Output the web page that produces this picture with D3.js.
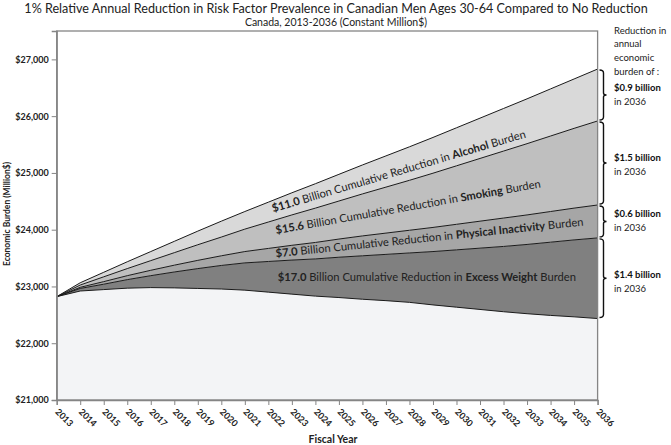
<!DOCTYPE html>
<html><head><meta charset="utf-8">
<script src="https://cdn.jsdelivr.net/npm/d3@7"></script>
<style>
body{margin:0;background:#fff}
svg{display:block;font-family:Lato,"Open Sans",sans-serif}
</style>
</head><body>
<svg id="chart" width="671" height="445"></svg>
<script>
// ---------------- data (Million $) ----------------
const years = [2013,2014,2015,2016,2017,2018,2019,2020,2021,2022,2023,2024,2025,2026,2027,2028,2029,2030,2031,2032,2033,2034,2035,2036];
const noReduction = [22820,23065,23250,23435,23615,23795,23975,24150,24320,24485,24650,24810,24975,25140,25300,25460,25625,25795,25965,26135,26305,26480,26655,26830];
const alcohol      = [0,40,80,120,160,200,240,280,310,350,390,430,470,510,550,590,630,670,710,750,790,830,870,915];
const smoking      = [0,40,85,125,170,220,275,330,395,465,535,605,670,740,810,880,955,1030,1105,1180,1255,1330,1405,1480];
const inactivity   = [0,20,45,70,95,120,145,170,200,230,260,290,320,350,375,400,425,450,475,500,520,540,560,580];
const excessWeight = [0,45,95,150,210,280,350,415,480,540,600,655,710,765,815,870,940,1010,1080,1150,1220,1290,1355,1420];

const yTicks = [21000,22000,23000,24000,25000,26000,27000];
const factorNames = ["Alcohol","Smoking","Physical Inactivity","Excess Weight"];
const cumulativeLabels = ["$11.0","$15.6","$7.0","$17.0"];
const annualLabels = ["$0.9 billion","$1.5 billion","$0.6 billion","$1.4 billion"];
const colors = {base:"#f3f4f6", excessWeight:"#808080", inactivity:"#a6a6a6", smoking:"#bfbfbf", alcohol:"#d9d9d9"};

// ---------------- layout ----------------
const svg = d3.select("#chart");
const L = 56.7, R = 597.6, T = 31, B = 400;

const rows = years.map((yr,i)=>({
  year: yr,
  base: noReduction[i]-alcohol[i]-smoking[i]-inactivity[i]-excessWeight[i],
  excessWeight: excessWeight[i], inactivity: inactivity[i], smoking: smoking[i], alcohol: alcohol[i]
}));
const keys = ["base","excessWeight","inactivity","smoking","alcohol"];
const series = d3.stack().keys(keys)(rows);

const x = d3.scaleLinear().domain([2013,2036]).range([L,R]);
const y = d3.scaleLinear().domain([21000,27500]).range([B,T]);

// areas
const area = d3.area()
  .x(d=>x(d.data.year))
  .y0(d=>y(Math.max(d[0],21000)))
  .y1(d=>y(d[1]));
svg.append("g").selectAll("path").data(series).join("path")
  .attr("d",area).attr("fill",d=>colors[d.key]);

// boundary lines
const line = d3.line().x(d=>x(d.data.year)).y(d=>y(d[1]));
svg.append("g").selectAll("path").data(series).join("path")
  .attr("d",line).attr("fill","none").attr("stroke","#1a1a1a").attr("stroke-width",1);

// frame
svg.append("rect").attr("x",L).attr("y",T).attr("width",R-L).attr("height",B-T)
  .attr("fill","none").attr("stroke","#858585").attr("stroke-width",1.3);

// y axis
const ya = svg.append("g").attr("transform",`translate(${L},0)`)
  .call(d3.axisLeft(y).tickValues(yTicks).tickSize(5).tickFormat(d3.format("$,.0f")));
ya.select(".domain").attr("stroke","#858585").attr("stroke-width",1.3);
ya.selectAll(".tick line").attr("stroke","#858585");
ya.selectAll(".tick text").attr("font-family","Lato").attr("font-size",9).attr("font-weight","bold").attr("fill","#222").attr("x",-8);

// x axis
const xa = svg.append("g").attr("transform",`translate(0,${B})`)
  .call(d3.axisBottom(x).tickValues(years).tickSize(5).tickFormat(d3.format("d")));
xa.select(".domain").attr("stroke","#858585").attr("stroke-width",1.3);
xa.selectAll(".tick line").attr("stroke","#858585");
xa.selectAll(".tick text")
  .attr("font-family","Lato").attr("font-size",9).attr("font-weight","bold").attr("fill","#222")
  .attr("text-anchor","start").attr("dominant-baseline","central")
  .attr("y",0).attr("dy",null)
  .attr("transform","translate(0,10) rotate(45)");

// titles
svg.append("text").attr("x",336).attr("y",8.5).attr("text-anchor","middle").attr("dominant-baseline","central")
  .attr("font-size",12.6).attr("fill","#222")
  .text("1% Relative Annual Reduction in Risk Factor Prevalence in Canadian Men Ages 30-64 Compared to No Reduction");
svg.append("text").attr("x",336).attr("y",21.5).attr("text-anchor","middle").attr("dominant-baseline","central")
  .attr("font-size",10.5).attr("fill","#222").text("Canada, 2013-2036 (Constant Million$)");
svg.append("text").attr("x",333).attr("y",439).attr("text-anchor","middle").attr("dominant-baseline","central")
  .attr("font-size",10.5).attr("font-weight","bold").attr("fill","#222").text("Fiscal Year");
svg.append("text").attr("transform","translate(7,214) rotate(-90)").attr("text-anchor","middle").attr("dominant-baseline","central")
  .attr("font-size",8.5).attr("font-weight","bold").attr("fill","#222").text("Economic Burden (Million$)");

// band labels: start year, value at start (centre of text), angle
const bandLabelPos = [
  {yr:2022.15, v:24390, a:-16.5},
  {yr:2022.3,  v:24010, a:-10},
  {yr:2022.3,  v:23600, a:-5.9},
  {yr:2022.4,  v:23185, a:0}
];
bandLabelPos.forEach((p,i)=>{
  const t = svg.append("text")
    .attr("transform",`translate(${x(p.yr)},${y(p.v)}) rotate(${p.a})`)
    .attr("dominant-baseline","central").attr("font-size",11.2).attr("fill","#222");
  t.append("tspan").attr("font-weight","bold").text(cumulativeLabels[i]);
  t.append("tspan").text(" Billion Cumulative Reduction in ");
  t.append("tspan").attr("font-weight","bold").text(factorNames[i]);
  t.append("tspan").text(" Burden");
});

// right-hand brackets
const last = series.map(s=>s[s.length-1]);
const bands = ["alcohol","smoking","inactivity","excessWeight"].map(k=>{
  const s = last[keys.indexOf(k)];
  return {top:y(s[1]), bot:y(s[0])};
});
const bx = 603.5, textOff = [-8,-5,-8,-4];
bands.forEach((b,i)=>{
  const t0 = b.top+1, t1 = b.bot-1, m=(b.top+b.bot)/2;
  svg.append("path")
    .attr("d",`M${bx-4},${t0} Q${bx},${t0} ${bx},${t0+3} V${m-2} Q${bx},${m} ${bx+3},${m} Q${bx},${m} ${bx},${m+2} V${t1-3} Q${bx},${t1} ${bx-4},${t1}`)
    .attr("fill","none").attr("stroke","#111").attr("stroke-width",1.4);
  svg.append("text").attr("x",614).attr("y",m+textOff[i]).attr("dominant-baseline","central")
    .attr("font-size",9.5).attr("font-weight","bold").attr("fill","#111").text(annualLabels[i]);
  svg.append("text").attr("x",614).attr("y",m+textOff[i]+14).attr("dominant-baseline","central")
    .attr("font-size",9.5).attr("fill","#222").text("in 2036");
});
["Reduction in","annual","economic","burden of :"].forEach((s,i)=>{
  svg.append("text").attr("x",614).attr("y",30+i*13.9).attr("dominant-baseline","central")
    .attr("font-size",9.5).attr("fill","#222").text(s);
});
</script>
</body></html>
